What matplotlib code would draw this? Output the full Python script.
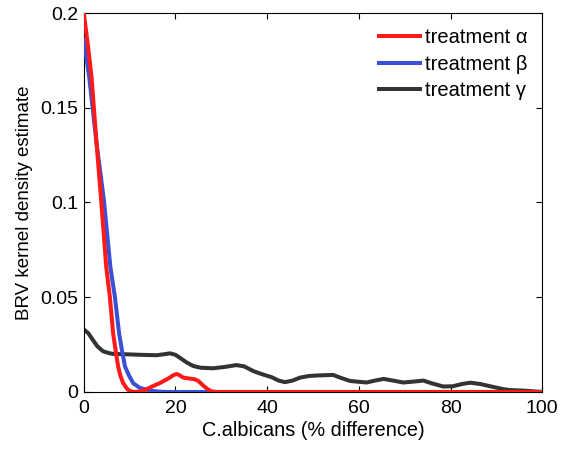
import numpy as np
import matplotlib.pyplot as plt

plt.rcParams['font.family'] = ['Liberation Sans', 'DejaVu Sans']

# kernel density estimates, read as (x, density)
x_alpha = [0, 0.9, 1.7, 2.8, 3.8, 4.9, 5.7, 6.4, 7.0, 7.5, 8.0, 8.6, 9.6, 10.3, 11.1,
           12.0, 13.5, 15.0, 16.6, 18.5, 19.5, 20.2, 20.8, 21.7, 23.0, 24.2, 25.0,
           26.0, 27.0, 27.9, 29.0, 40, 60, 80, 100]
y_alpha = [0.2, 0.183, 0.166, 0.131, 0.101, 0.066, 0.050, 0.031, 0.021, 0.0134, 0.0085,
           0.0046, 0.0012, 0.0003, 0.0, 0.0002, 0.0012, 0.003, 0.0047, 0.0072, 0.0088,
           0.0095, 0.009, 0.0076, 0.0071, 0.0067, 0.0058, 0.0035, 0.0015, 0.0003, 0.0,
           0.0, 0.0, 0.0, 0.0]

x_beta = [0, 1.2, 2.8, 4.4, 5.8, 6.8, 7.7, 8.4, 9.0, 9.9, 10.8, 12.2, 13.7, 15.5,
          17.0, 18.0, 30, 60, 100]
y_beta = [0.186, 0.166, 0.131, 0.101, 0.066, 0.050, 0.031, 0.021, 0.0134, 0.0085,
          0.0046, 0.0022, 0.0012, 0.0004, 0.0001, 0.0, 0.0, 0.0, 0.0]

x_gamma = [0, 1.0, 2.0, 3.0, 4.2, 5.5, 6.4, 9.3, 12.5, 15.9, 17.5, 18.8, 20.0, 21.0,
           22.5, 23.9, 25.5, 28.2, 31.0, 33.3, 35.0, 37.0, 39.1, 41.0, 42.5, 43.9,
           45.5, 47.2, 49.0, 50.8, 54.4, 56.0, 58.1, 61.7, 63.5, 65.4, 67.5, 69.7,
           72.0, 74.1, 76.0, 78.4, 80.5, 82.5, 84.3, 86.5, 89.4, 91.5, 93.0, 96.0, 100]
y_gamma = [0.033, 0.031, 0.0274, 0.024, 0.0215, 0.0205, 0.0201, 0.0199, 0.0196, 0.0194,
           0.0199, 0.0204, 0.0196, 0.018, 0.0155, 0.0137, 0.0128, 0.0125, 0.0133,
           0.0142, 0.0135, 0.011, 0.0092, 0.0078, 0.006, 0.0052, 0.006, 0.0076, 0.0084,
           0.0087, 0.009, 0.0075, 0.0058, 0.005, 0.006, 0.0069, 0.006, 0.005, 0.0055,
           0.006, 0.0045, 0.0029, 0.003, 0.0042, 0.0049, 0.0042, 0.0026, 0.0015, 0.001,
           0.0007, 0.0]

fig = plt.figure(figsize=(5.66, 4.49), dpi=100)
ax = fig.add_axes([0.148, 0.127, 0.810, 0.844])

lw = 2.9
ax.plot(x_gamma, y_gamma, color='#333333', lw=lw, label='treatment γ', zorder=2,
        solid_joinstyle='round')
ax.plot(x_beta, y_beta, color='#3a50d6', lw=lw, label='treatment β', zorder=3,
        solid_joinstyle='round')
ax.plot(x_alpha, y_alpha, color='#ff1a1a', lw=lw, label='treatment α', zorder=4,
        solid_joinstyle='round')

ax.set_xlim(0, 100)
ax.set_ylim(0, 0.2)
ax.set_xticks([0, 20, 40, 60, 80, 100])
ax.set_yticks([0, 0.05, 0.1, 0.15, 0.2])
ax.set_yticklabels(['0', '0.05', '0.1', '0.15', '0.2'])
ax.tick_params(direction='in', top=True, right=True, labelsize=14, length=4)
ax.tick_params(axis='x', pad=6)
ax.tick_params(axis='y', pad=4)
ax.set_xlabel('C.albicans (% difference)', fontsize=14.3, labelpad=3)
ax.set_ylabel('BRV kernel density estimate', fontsize=13.5, labelpad=5)

h, l = ax.get_legend_handles_labels()
ax.legend(h[::-1], l[::-1], loc='upper right', frameon=False, fontsize=14.5,
          handlelength=2.0, handletextpad=0.25, labelspacing=0.38,
          borderaxespad=0.35)

fig.savefig('out.png', dpi=100)
